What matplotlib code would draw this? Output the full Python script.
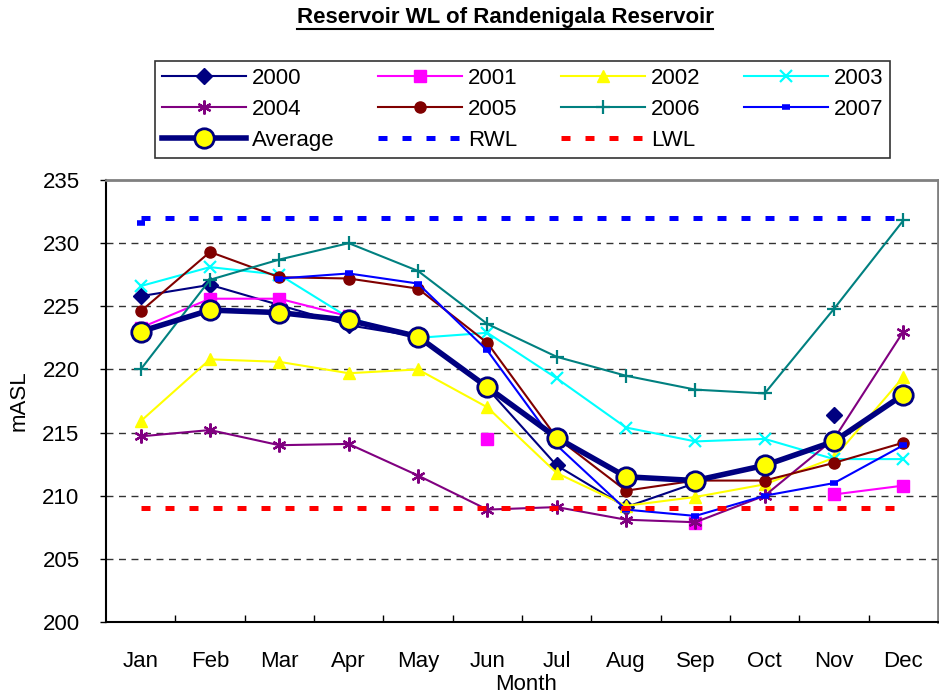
import numpy as np
import matplotlib
matplotlib.use('Agg')
import matplotlib.pyplot as plt
from matplotlib.lines import Line2D

plt.rcParams['font.family'] = ['Liberation Sans', 'DejaVu Sans']

nan = np.nan

# 월별 저수위 (mASL)
months = ['Jan', 'Feb', 'Mar', 'Apr', 'May', 'Jun', 'Jul', 'Aug', 'Sep', 'Oct', 'Nov', 'Dec']
wl_2000 = [225.8, 226.7, 225.1, 223.5, 222.6, 218.5, 212.4, 209.1, 211.0, nan, 216.4, nan]
wl_2001 = [223.3, 225.6, 225.6, 224.2, nan, 214.5, nan, nan, 207.8, nan, 210.1, 210.8]
wl_2002 = [215.9, 220.8, 220.6, 219.7, 220.0, 217.0, 211.8, 209.2, 209.9, 210.9, 213.0, 219.4]
wl_2003 = [226.6, 228.1, 227.5, 224.1, 222.5, 222.9, 219.3, 215.4, 214.3, 214.5, 212.9, 212.9]
wl_2004 = [214.7, 215.2, 214.0, 214.1, 211.6, 208.9, 209.1, 208.1, 207.9, 210.0, 214.5, 223.0]
wl_2005 = [224.6, 229.3, 227.3, 227.2, 226.4, 222.1, 214.6, 210.4, 211.2, 211.2, 212.6, 214.2]
wl_2006 = [220.0, 227.1, 228.7, 230.0, 227.8, 223.6, 221.0, 219.5, 218.4, 218.1, 224.8, 231.8]
wl_2007 = [231.6, nan, 227.2, 227.6, 226.8, 221.5, 214.0, 208.9, 208.4, 210.0, 211.0, 214.0]
wl_avg = [223.0, 224.7, 224.5, 223.9, 222.6, 218.6, 214.6, 211.5, 211.2, 212.4, 214.3, 218.0]
rwl = [232.0] * 12
lwl = [209.0] * 12

x = np.arange(len(months))
FS = 16

fig = plt.figure(figsize=(9.39, 6.97), dpi=100)
ax = fig.add_axes([106 / 939, 75 / 697, 832 / 939, 442 / 697])

# 연도별 선 스타일
styles = [
    ('2000', wl_2000, '#000080', 'D', 8),
    ('2001', wl_2001, '#FF00FF', 's', 8),
    ('2002', wl_2002, '#FFFF00', '^', 9),
    ('2003', wl_2003, '#00FFFF', 'x', 9),
    ('2004', wl_2004, '#800080', (6, 2, 0), 10),
    ('2005', wl_2005, '#800000', 'o', 8),
    ('2006', wl_2006, '#008080', '+', 10),
]
handles = {}
for name, vals, col, mk, ms in styles:
    thin = mk in ('x', '+') or isinstance(mk, tuple)
    h, = ax.plot(x, vals, color=col, lw=1.5, marker=mk, ms=ms, mfc=col, mec=col,
                 mew=1.6 if thin else 1, label=name)
    handles[name] = h

h, = ax.plot(x, wl_2007, color='#0000FF', lw=1.5, marker='_', ms=6, mew=4, label='2007')
handles['2007'] = h

h, = ax.plot(x, wl_avg, color='#000080', lw=4, marker='o', ms=14, mfc='#FFFF00',
             mec='#000080', mew=2, label='Average')
handles['Average'] = h

h, = ax.plot(x, rwl, color='#0000FF', lw=3.6, dashes=(1.8, 3), dash_capstyle='butt',
             label='RWL')
handles['RWL'] = h
h, = ax.plot(x, lwl, color='#FF0000', lw=3.6, dashes=(1.8, 3), dash_capstyle='butt',
             label='LWL')
handles['LWL'] = h

# 축 설정
ax.set_xlim(-0.5, 11.5)
ax.set_ylim(200, 235)
ax.set_yticks(np.arange(200, 236, 5))
ax.set_xticks(x)
ax.set_xticklabels(months, fontsize=FS)
ax.set_xticks(np.arange(0.5, 11.5, 1), minor=True)
ax.tick_params(axis='x', which='major', length=0, pad=21)
ax.tick_params(axis='x', which='minor', length=5, direction='in', width=1)
ax.tick_params(axis='y', length=4, width=1, direction='out', labelsize=FS, pad=15)
for yv in range(205, 235, 5):
    ax.axhline(yv, color='#333333', lw=1, ls=(0, (5, 4)), zorder=0)

ax.spines['left'].set_color('black')
ax.spines['bottom'].set_color('black')
ax.spines['left'].set_linewidth(1.5)
ax.spines['bottom'].set_linewidth(1.5)
ax.spines['top'].set_color('#808080')
ax.spines['right'].set_color('#808080')
ax.spines['top'].set_linewidth(2)
ax.spines['right'].set_linewidth(2)

ax.set_xlabel('Month', fontsize=FS)
ax.xaxis.set_label_coords(0.505, -52 / 442)
ax.set_ylabel('mASL', fontsize=FS)
ax.yaxis.set_label_coords(-76 / 832, 0.5)

# 범례 (행 우선 순서로 배치)
order = ['2000', '2004', 'Average', '2001', '2005', 'RWL', '2002', '2006', 'LWL', '2003', '2007']
leg = fig.legend([handles[k] for k in order], order, ncol=4, loc='center',
                 bbox_to_anchor=(155 / 939, 1 - 162 / 697, 735 / 939, 105 / 697),
                 mode='expand', fontsize=FS, frameon=True, fancybox=False,
                 edgecolor='black', handlelength=3.8, handletextpad=0.25,
                 borderaxespad=0, borderpad=0.3, labelspacing=0.45, columnspacing=0.6)
leg.get_frame().set_linewidth(1.2)

# 제목 (밑줄 포함)
title = fig.text(505 / 939, 1 - 18 / 697, 'Reservoir WL of Randenigala Reservoir',
                 ha='center', va='center', fontsize=16, fontweight='bold')
fig.canvas.draw()
bb = title.get_window_extent().transformed(fig.transFigure.inverted())
fig.add_artist(Line2D([bb.x0, bb.x1], [bb.y0 - 0.001, bb.y0 - 0.001],
                      color='black', lw=1.5, transform=fig.transFigure))

fig.savefig('out.png', dpi=100)
